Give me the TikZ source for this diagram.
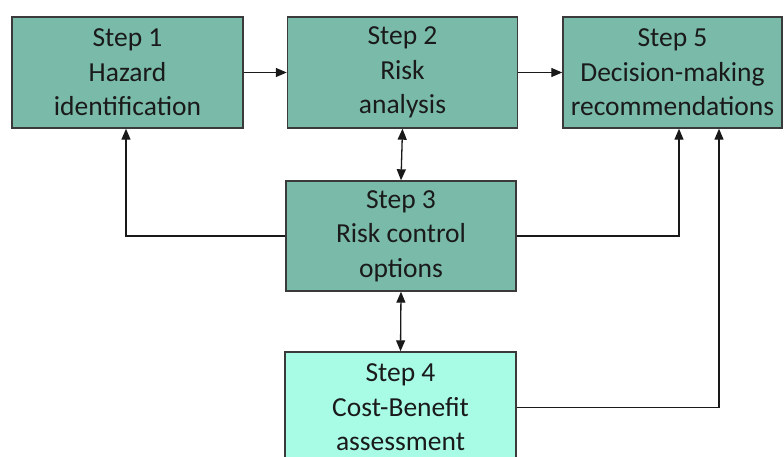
\documentclass[tikz,border=0pt]{standalone}
\usepackage{fontspec}
\setmainfont{Carlito}
\usetikzlibrary{arrows.meta}
\definecolor{boxteal}{HTML}{79BAA8}
\definecolor{boxaqua}{HTML}{A8FCE6}
\definecolor{edgegray}{HTML}{3A3A3A}
\definecolor{txt}{HTML}{1A1A1A}
\tikzset{
  stepbox/.style={draw=edgegray, line width=1.4pt, fill=boxteal, text=txt,
    align=center, inner sep=0pt, minimum height=111pt,
    font=\fontsize{27.5}{34.5}\selectfont},
  tip/.tip={Triangle[length=11pt,width=9pt]},
  conn/.style={draw=black!90, line width=1.3pt, -tip},
  dconn/.style={draw=black!90, line width=1.3pt, tip-tip}
}
\begin{document}
\begin{tikzpicture}[x=1pt,y=-1pt]
\useasboundingbox (0,0) rectangle (784,457);
\clip (0,0) rectangle (784,457);
\node[stepbox, minimum width=231pt] (s1) at (127.5,72.5) {Step 1\\Hazard\\identification};
\node[stepbox, minimum width=230pt] (s2) at (402.5,72.5) {Step 2\\Risk\\analysis};
\node[stepbox, minimum width=219pt] (s5) at (672.5,72.5) {Step 5\\Decision-making\\recommendations};
\node[stepbox, minimum width=230pt, minimum height=110pt] (s3) at (401,236) {Step 3\\Risk control\\options};
\node[stepbox, minimum width=231pt, fill=boxaqua] (s4) at (400.5,407.5) {Step 4\\Cost-Benefit\\assessment};
\draw[conn] (s1.east) -- (s2.west);
\draw[conn] (s2.east) -- (s5.west);
\draw[dconn] (s2.south) -- (s3.north);
\draw[dconn] (s3.south) -- (s4.north);
\draw[conn] (s3.west) -| ([xshift=-1.5pt]s1.south);
\draw[conn] (s3.east) -| ([xshift=6.5pt]s5.south);
\draw[conn] (s4.east) -| ([xshift=46.5pt]s5.south);
\end{tikzpicture}
\end{document}
